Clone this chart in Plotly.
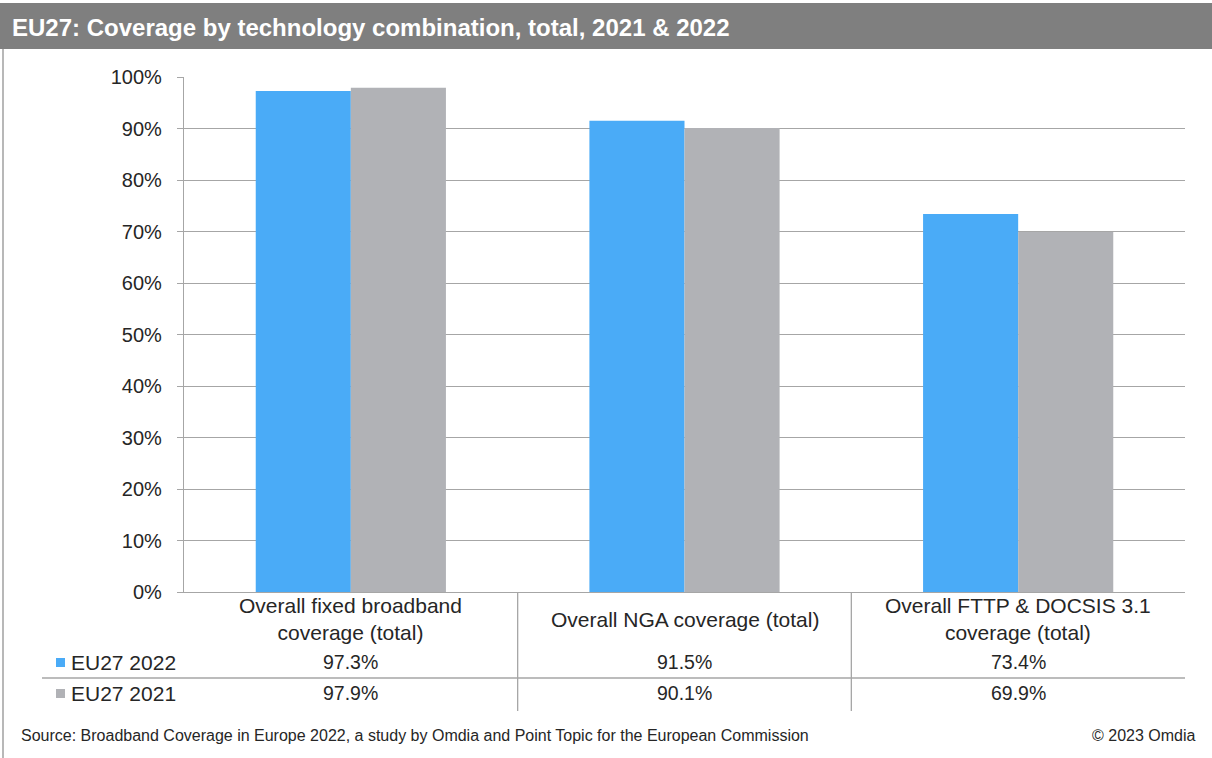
import plotly.graph_objects as go

# Chart data
categories = [
    "Overall fixed broadband<br>coverage (total)",
    "Overall NGA coverage (total)",
    "Overall FTTP & DOCSIS 3.1<br>coverage (total)",
]
series_names = ["EU27 2022", "EU27 2021"]
eu27_2022 = [97.3, 91.5, 73.4]
eu27_2021 = [97.9, 90.1, 69.9]
y_ticks = [0, 10, 20, 30, 40, 50, 60, 70, 80, 90, 100]

title_text = "EU27: Coverage by technology combination, total, 2021 & 2022"
source_text = ("Source: Broadband Coverage in Europe 2022, a study by Omdia and "
               "Point Topic for the European Commission")
copyright_text = "© 2023 Omdia"

W, H = 1212, 758
L, R, T, B = 184, 27, 77, 166
PW, PH = W - L - R, H - T - B

BLUE = "#4AABF7"
GREY = "#B1B2B6"
LINE = "#A6A6A6"
TEXT = "#262626"
FONT = "Liberation Sans, Arial, sans-serif"


def px_x(px):
    return (px - L) / PW


def px_y(py):
    return (H - B - py) / PH


fig = go.Figure()
fig.add_trace(go.Bar(x=list(range(3)), y=eu27_2022, name=series_names[0],
                     marker=dict(color=BLUE, line=dict(width=0))))
fig.add_trace(go.Bar(x=list(range(3)), y=eu27_2021, name=series_names[1],
                     marker=dict(color=GREY, line=dict(width=0))))

shapes = []
annotations = []

# Title band
shapes.append(dict(type="rect", xref="paper", yref="paper",
                   x0=px_x(0), x1=px_x(W), y0=px_y(49), y1=px_y(3),
                   fillcolor="#7F7F7F", line=dict(width=0), layer="below"))
annotations.append(dict(text="<b>" + title_text + "</b>", xref="paper", yref="paper",
                        x=px_x(10), y=px_y(27), xanchor="left", yanchor="middle",
                        showarrow=False,
                        font=dict(family="Liberation Sans Narrow, Arial Narrow, Liberation Sans, sans-serif",
                                  size=24, color="white")))
# Left frame line
shapes.append(dict(type="line", xref="paper", yref="paper",
                   x0=px_x(3), x1=px_x(3), y0=px_y(49), y1=px_y(H),
                   line=dict(color="#A0A0A0", width=1.5)))

# Data table: column dividers and row separator
col_w = PW / 3
for k in (1, 2):
    xd = L + k * col_w
    shapes.append(dict(type="line", xref="paper", yref="paper",
                       x0=px_x(xd), x1=px_x(xd), y0=px_y(592), y1=px_y(711),
                       line=dict(color=LINE, width=1.3)))
shapes.append(dict(type="line", xref="paper", yref="paper",
                   x0=px_x(42), x1=px_x(L + PW), y0=px_y(678), y1=px_y(678),
                   line=dict(color=LINE, width=1.3)))

# Category labels and values in the table
row_y = [662, 693]
for i, cat in enumerate(categories):
    annotations.append(dict(text=cat, xref="x", yref="paper", x=i, y=px_y(619),
                            xanchor="center", yanchor="middle", showarrow=False,
                            font=dict(family=FONT, size=21, color=TEXT)))
    for vals, ry in zip((eu27_2022, eu27_2021), row_y):
        annotations.append(dict(text=f"{vals[i]:.1f}%", xref="x", yref="paper",
                                x=i, y=px_y(ry), xanchor="center", yanchor="middle",
                                showarrow=False,
                                font=dict(family=FONT, size=19.5, color=TEXT)))

# Legend keys in the table
for name, color, ry in zip(series_names, (BLUE, GREY), row_y):
    shapes.append(dict(type="rect", xref="paper", yref="paper",
                       x0=px_x(56), x1=px_x(65), y0=px_y(ry + 5), y1=px_y(ry - 4),
                       fillcolor=color, line=dict(width=0)))
    annotations.append(dict(text=name, xref="paper", yref="paper",
                            x=px_x(69), y=px_y(ry), xanchor="left", yanchor="middle",
                            showarrow=False,
                            font=dict(family=FONT, size=21, color=TEXT)))

# Footer
annotations.append(dict(text=source_text, xref="paper", yref="paper",
                        x=px_x(19), y=px_y(735), xanchor="left", yanchor="middle",
                        showarrow=False, font=dict(family=FONT, size=16, color=TEXT)))
annotations.append(dict(text=copyright_text, xref="paper", yref="paper",
                        x=px_x(1198), y=px_y(735), xanchor="right", yanchor="middle",
                        showarrow=False, font=dict(family=FONT, size=16, color=TEXT)))

fig.update_layout(
    width=W, height=H,
    margin=dict(l=L, r=R, t=T, b=B, pad=0),
    paper_bgcolor="white", plot_bgcolor="white",
    barmode="group", bargap=0.43, bargroupgap=0,
    showlegend=False,
    shapes=shapes, annotations=annotations,
    font=dict(family=FONT, color=TEXT),
    xaxis=dict(range=[-0.5, 2.5], showticklabels=False, ticks="",
               showgrid=False, zeroline=False,
               showline=True, linecolor=LINE, linewidth=1.3),
    yaxis=dict(range=[0, 100], tickvals=y_ticks,
               ticktext=[f"{v}%" for v in y_ticks],
               ticks="outside", ticklen=6, tickcolor=LINE, tickwidth=1.3,
               ticklabelstandoff=11,
               showgrid=True, gridcolor=LINE, gridwidth=1.3,
               zeroline=False, showline=True, linecolor=LINE, linewidth=1.3,
               tickfont=dict(family=FONT, size=20, color=TEXT)),
)

fig.write_html("out.html")
